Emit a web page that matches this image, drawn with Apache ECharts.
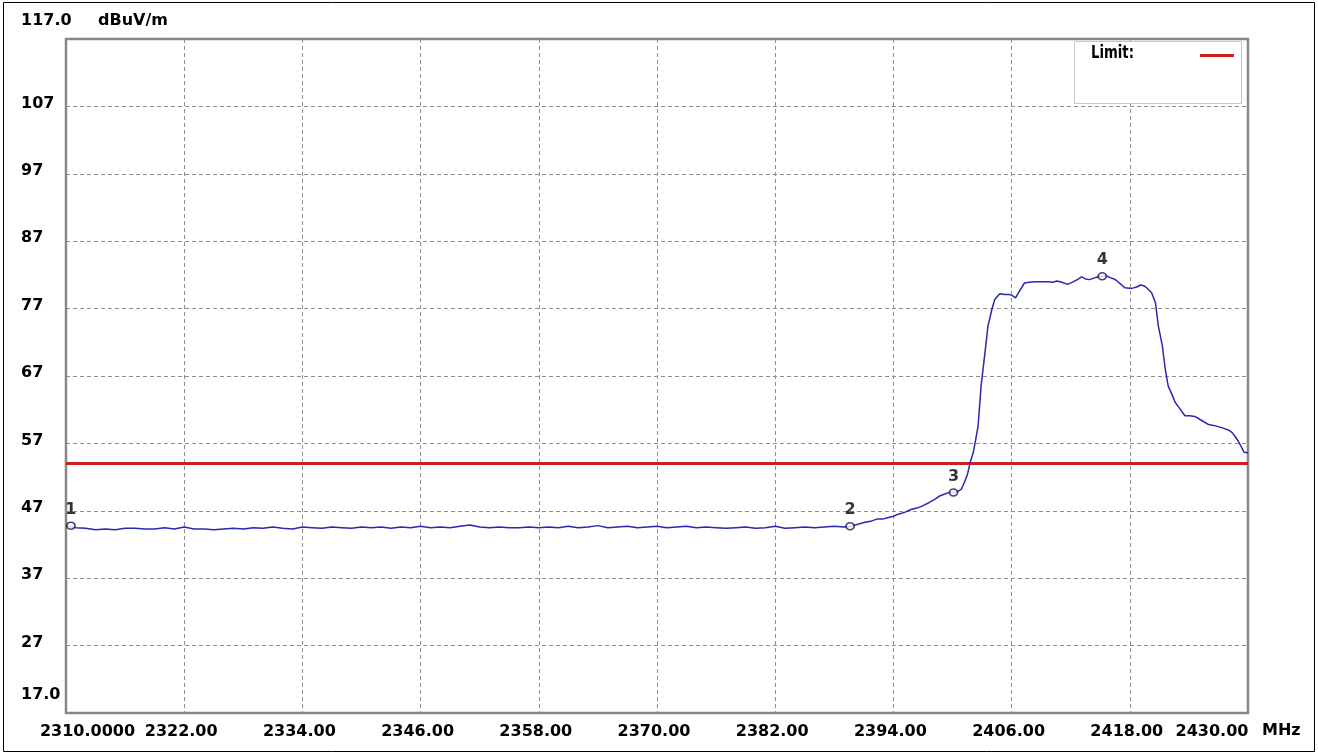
<!DOCTYPE html>
<html>
<head>
<meta charset="utf-8">
<script src="https://cdn.jsdelivr.net/npm/echarts@6/dist/echarts.min.js"></script>
<style>
html,body{margin:0;padding:0;background:#fff;}
#chart{width:1318px;height:753px;}
</style>
</head>
<body>
<div id="chart"></div>
<script>
// ---- data ----
const xTicks = [2310, 2322, 2334, 2346, 2358, 2370, 2382, 2394, 2406, 2418, 2430];
const xTickLabels = ['2310.0000', '2322.00', '2334.00', '2346.00', '2358.00', '2370.00', '2382.00', '2394.00', '2406.00', '2418.00', '2430.00'];
const yTicks = [17, 27, 37, 47, 57, 67, 77, 87, 97, 107, 117];
const yTickLabels = ['17.0', '27', '37', '47', '57', '67', '77', '87', '97', '107', '117.0'];

const freqs = [
  2310, 2311, 2312, 2313, 2314, 2315, 2316, 2317, 2318, 2319,
  2320, 2321, 2322, 2323, 2324, 2325, 2326, 2327, 2328, 2329,
  2330, 2331, 2332, 2333, 2334, 2335, 2336, 2337, 2338, 2339,
  2340, 2341, 2342, 2343, 2344, 2345, 2346, 2347, 2348, 2349,
  2350, 2351, 2352, 2353, 2354, 2355, 2356, 2357, 2358, 2359,
  2360, 2361, 2362, 2363, 2364, 2365, 2366, 2367, 2368, 2369,
  2370, 2371, 2372, 2373, 2374, 2375, 2376, 2377, 2378, 2379,
  2380, 2381, 2382, 2383, 2384, 2385, 2386, 2387, 2388, 2389,
  2389.6, 2390.4, 2391.1, 2391.8, 2392.4, 2393.0, 2393.5, 2394.0, 2394.5, 2395.2,
  2395.8, 2396.4, 2396.9, 2397.6, 2398.2, 2398.7, 2399.2, 2399.6, 2400.1, 2400.6,
  2400.9, 2401.2, 2401.5, 2401.8, 2402.1, 2402.3, 2402.6, 2402.9, 2403.3, 2403.6,
  2404.0, 2404.3, 2404.8, 2405.3, 2405.7, 2406.0, 2406.4, 2406.8, 2407.3, 2407.8,
  2408.4, 2409.1, 2409.7, 2410.2, 2410.6, 2411.1, 2411.7, 2412.3, 2412.8, 2413.1,
  2413.5, 2413.9, 2414.5, 2415.2, 2415.6, 2416.0, 2416.4, 2416.7, 2417.1, 2417.5,
  2418.2, 2418.7, 2419.1, 2419.4, 2419.7, 2420.2, 2420.6, 2420.9, 2421.3, 2421.6,
  2421.9, 2422.3, 2422.6, 2423.0, 2423.6, 2424.1, 2424.6, 2425.3, 2426.0, 2426.7,
  2427.4, 2428.0, 2428.4, 2428.8, 2429.1, 2429.6, 2430.0
];
const levels = [
  44.8, 44.5, 44.4, 44.2, 44.3, 44.2, 44.4, 44.4, 44.3, 44.3,
  44.5, 44.3, 44.6, 44.3, 44.3, 44.2, 44.3, 44.4, 44.3, 44.5,
  44.4, 44.6, 44.4, 44.3, 44.6, 44.5, 44.4, 44.6, 44.5, 44.4,
  44.6, 44.5, 44.6, 44.4, 44.6, 44.5, 44.7, 44.5, 44.6, 44.5,
  44.7, 44.9, 44.6, 44.5, 44.6, 44.5, 44.5, 44.6, 44.5, 44.6,
  44.5, 44.7, 44.5, 44.6, 44.8, 44.5, 44.6, 44.7, 44.5, 44.6,
  44.7, 44.5, 44.6, 44.7, 44.5, 44.6, 44.5, 44.4, 44.5, 44.6,
  44.4, 44.5, 44.7, 44.4, 44.5, 44.6, 44.5, 44.6, 44.7, 44.6,
  44.7, 45.0, 45.3, 45.5, 45.8, 45.8, 46.0, 46.2, 46.5, 46.8,
  47.2, 47.4, 47.7, 48.2, 48.7, 49.2, 49.5, 49.7, 49.7, 49.9,
  50.2, 51.2, 52.3, 54.2, 55.6, 57.1, 59.6, 65.5, 70.5, 74.4,
  76.9, 78.4, 79.2, 79.1, 79.1, 79.0, 78.6, 79.6, 80.8, 80.9,
  81.0, 81.0, 81.0, 80.9, 81.1, 80.9, 80.6, 81.0, 81.4, 81.7,
  81.4, 81.3, 81.6, 81.8, 81.9, 81.6, 81.4, 81.1, 80.6, 80.1,
  80.0, 80.2, 80.5, 80.4, 80.1, 79.4, 77.9, 74.4, 71.5, 68.0,
  65.5, 64.2, 63.1, 62.3, 61.1, 61.1, 61.0, 60.4, 59.8, 59.6,
  59.3, 59.0, 58.6, 57.8, 57.1, 55.7, 55.6
];

const limitName = 'Limit:';
const limitFreqs = [2310, 2430];
const limitLevels = [54, 54];

const markerIds = ['1', '2', '3', '4'];
const markerFreqs = [2310.5, 2389.6, 2400.1, 2415.2];
const markerLevels = [44.8, 44.7, 49.7, 81.8];

const yUnit = 'dBuV/m';
const xUnit = 'MHz';

// ---- chart ----
const AXIS_FONT = "'DejaVu Sans', sans-serif";
const chart = echarts.init(document.getElementById('chart'), null, {renderer: 'canvas'});

const traceData = freqs.map((f, i) => [f, levels[i]]);
const limitData = limitFreqs.map((f, i) => [f, limitLevels[i]]);
const markerData = markerFreqs.map((f, i) => ({value: [f, markerLevels[i]], name: markerIds[i]}));

const gridLine = {show: true, lineStyle: {color: '#8e8e8e', width: 1, type: [4, 3]}};
const lblStyle = {fontFamily: AXIS_FONT, fontWeight: 'bold', fontSize: 16, color: '#000'};

const option = {
  backgroundColor: '#ffffff',
  animation: false,
  grid: {left: 66, top: 39, right: 70, bottom: 40, show: true, backgroundColor: '#ffffff', borderColor: '#858585', borderWidth: 2.5},
  xAxis: {
    type: 'value', min: xTicks[0], max: xTicks[xTicks.length - 1],
    axisLine: {show: false}, axisTick: {show: false, customValues: xTicks},
    splitLine: gridLine,
    axisLabel: Object.assign({
      customValues: xTicks, margin: 11,
      formatter: function (v) {
        const i = xTicks.indexOf(v);
        const t = i >= 0 ? xTickLabels[i] : '';
        if (i === 0) return '{first|' + t + '}';
        if (i === xTicks.length - 1) return '{last|' + t + '}';
        return '{mid|' + t + '}';
      },
      rich: {
        first: Object.assign({padding: [0, 0, 0, 43]}, lblStyle),
        last: Object.assign({padding: [0, 72, 0, 0]}, lblStyle),
        mid: Object.assign({padding: [0, 6, 0, 0]}, lblStyle)
      }
    }, lblStyle)
  },
  yAxis: {
    type: 'value', min: yTicks[0], max: yTicks[yTicks.length - 1],
    name: yUnit, nameLocation: 'end', nameGap: 18,
    nameTextStyle: Object.assign({align: 'left', verticalAlign: 'middle', padding: [0, 0, 0, 32]}, lblStyle),
    axisLine: {show: false}, axisTick: {show: false, customValues: yTicks},
    splitLine: gridLine,
    axisLabel: Object.assign({
      customValues: yTicks, margin: 45, align: 'left',
      formatter: function (v) {
        const i = yTicks.indexOf(v);
        const t = i >= 0 ? yTickLabels[i] : '';
        if (i === 0 || i === yTicks.length - 1) return '{end|' + t + '}';
        return '{mid|' + t + '}';
      },
      rich: {
        end: Object.assign({padding: [0, 0, 36, 0]}, lblStyle),
        mid: Object.assign({padding: [0, 0, 6, 0]}, lblStyle)
      }
    }, lblStyle)
  },
  series: [
    {
      name: limitName, type: 'line', data: limitData, symbol: 'none',
      lineStyle: {color: '#cc1f1f', width: 3}, z: 2, silent: true
    },
    {
      name: 'Trace', type: 'line', data: traceData, symbol: 'none',
      lineStyle: {color: '#2828b0', width: 1.5}, z: 3, silent: true
    },
    {
      name: 'Markers', type: 'scatter', data: markerData,
      symbol: 'circle', symbolSize: [8, 7],
      itemStyle: {color: '#ffffff', borderColor: '#14145a', borderWidth: 1.6},
      label: {show: true, position: 'top', distance: 4, formatter: '{b}',
        fontFamily: "'DejaVu Sans', sans-serif", fontWeight: 'bold', fontSize: 16, color: '#000'},
      z: 4, silent: true
    }
  ],
  graphic: [
    {type: 'rect', z: 100, silent: true, shape: {x: 3.5, y: 2.5, width: 1311, height: 749}, style: {fill: 'none', stroke: '#000', lineWidth: 1}},
    {type: 'text', z: 100, silent: true, x: 1262, y: 731, style: {text: xUnit, fill: '#000', verticalAlign: 'middle', align: 'left', fontFamily: 'DejaVu Sans', fontWeight: 'bold', fontSize: 16}},
    {type: 'rect', z: 100, silent: true, shape: {x: 1074.5, y: 41.5, width: 167, height: 62}, style: {fill: '#ffffff', stroke: '#c8c8c8', lineWidth: 1}},
    {type: 'text', z: 101, silent: true, x: 1091, y: 54, scaleX: 0.78, style: {text: limitName, fill: '#000', verticalAlign: 'middle', align: 'left', fontFamily: 'DejaVu Sans', fontWeight: 'bold', fontSize: 17}},
    {type: 'line', z: 101, silent: true, shape: {x1: 1200, y1: 55.5, x2: 1234, y2: 55.5}, style: {stroke: '#cc1f1f', lineWidth: 3}}
  ]
};
chart.setOption(option);
</script>
</body>
</html>
